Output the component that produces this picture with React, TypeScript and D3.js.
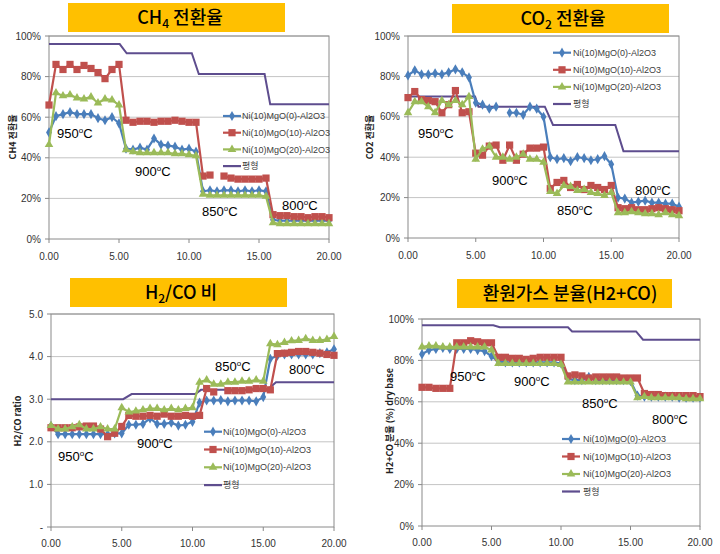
import React from 'react';
import * as d3 from 'd3';

// ---------- data ----------
const times = [0, 0.5, 1, 1.5, 2, 2.5, 3, 3.5, 4, 4.5, 5, 5.5, 6, 6.5, 7, 7.5, 8, 8.5, 9, 9.5, 10,
  10.5, 11, 11.5, 12, 12.5, 13, 13.5, 14, 14.5, 15, 15.5, 16, 16.5, 17, 17.5, 18, 18.5, 19, 19.5, 20];

const seriesNames = ['Ni(10)MgO(0)-Al2O3', 'Ni(10)MgO(10)-Al2O3', 'Ni(10)MgO(20)-Al2O3', '평형'];
const xTicks = [0, 5, 10, 15, 20];
const tempLabels = ['950', '900', '850', '800'];

// CH4 conversion (%)
const ch4Mg0 = [52.5, 60.5, 61.5, 62.5, 61.5, 61.5, 61.5, 59.5, 58.5, 60, 57, 44.5, 44, 45, 44, 49.5, 46.5, 46, 45.5, 44, 44.5,
  43, 23.5, 24, 23.5, 24, 24, 23.5, 24, 23.5, 24, 23.5, 9.5, 9, 9, 9, 9, 9, 9, 9, 9];
const ch4Mg10 = [66, 86, 83.5, 86, 83.5, 85.5, 84, 82, 79, 83.5, 86, 58.5, 57.5, 58, 58, 57.5, 58, 58, 58.5, 58, 57.5,
  57.5, 31, 31.5, null, 31, 30, 29.5, 29.5, 29.5, 29.5, 30, 12, 11.5, 11.5, 11, 11, 10.5, 11, 11, 10.5];
const ch4Mg20 = [46.5, 72, 70.5, 71, 69.5, 69, 70, 67, 69, 68.5, 66, 44, 43, 42.5, 42.5, 42.5, 42.5, 42.5, 42, 42, 41.5,
  41, 22, 21.5, 21.5, 21.5, 21.5, 21.5, 21.5, 21.5, 21.5, 21, 8, 7.5, 7.5, 7.5, 7.5, 7.5, 7.5, 7.5, 7.5];
const ch4EqT = [0, 5.05, 5.55, 10.2, 10.7, 15.4, 15.8, 20];
const ch4EqV = [96, 96, 91.5, 91.5, 81.3, 81.3, 66.4, 66.4];

// CO2 conversion (%)
const co2Mg0 = [80.5, 83, 81, 81, 81.5, 81, 82, 83.5, 82, 79.5, 67, 66, 64, 65, null, 62, 62, 61, 65, 64, 60,
  40, 39, 39.5, 38, 40, 39.5, 38.5, 39, 40.5, 36.5, 20, 19.5, 17.5, 18, 18.5, 17.5, 17.5, 17, 17, 15.5];
const co2Mg10 = [69.5, 72.5, 68.5, 68, 67.5, 62, 66, 73, 62, 62.5, 42, 41, 45.5, 46, 38.5, 46, 38.5, 41.5, 44.5, 44.5, 45,
  24.5, 27.5, 28.5, 25, 26.5, 24, 26, 25, 24, 26, 15, 14.5, 15, 14, 14, 14.5, 15, 14.5, 14, 13.5];
const co2Mg20 = [62, 67.5, 67.5, 65, 62, 68, 66, 68, 66, 70, 39, 44, 45.5, 40, 40, 39, 40, 41.5, 39, 39, 37.5,
  23, 22, 26, 25.5, 23.5, 24, 22.5, 22, 21, 22.5, 12.5, 12.5, 13, 12.5, 12, 12, 11.5, 12.5, 11.5, 11];
const co2EqT = [0, 4.95, 5.2, 10.1, 10.7, 15.3, 15.9, 20];
const co2EqV = [70, 70, 65, 65, 56, 56, 43, 43];

// H2/CO ratio
const ratioMg0 = [2.37, 2.18, 2.18, 2.18, 2.18, 2.18, 2.18, 2.18, 2.18, 2.2, 2.2, 2.4, 2.4, 2.42, 2.55, 2.42, 2.42, 2.45, 2.38, 2.4, 2.47,
  2.92, 2.97, 2.97, 2.98, 2.95, 2.97, 2.97, 2.97, 2.95, 3.05, 3.95, 4.02, 4.05, 4.05, 4.05, 4.05, 4.05, 4.08, 4.1, 4.17];
const ratioMg10 = [2.33, 2.33, 2.33, 2.33, 2.35, 2.37, 2.37, 2.3, 2.12, 2.2, 2.36, 2.62, 2.6, 2.6, 2.62, 2.6, 2.65, 2.6, 2.6, 2.62, 2.6,
  2.62, 3.25, 3.17, null, 3.2, 3.2, 3.2, 3.22, 3.25, 3.25, 3.22, 4.07, 4.08, 4.1, 4.12, 4.12, 4.1, 4.08, 4.05, 4.03];
const ratioMg20 = [2.38, 2.3, 2.3, 2.35, 2.4, 2.3, 2.3, 2.35, 2.3, 2.3, 2.8, 2.7, 2.72, 2.75, 2.78, 2.78, 2.75, 2.78, 2.75, 2.78, 2.8,
  3.4, 3.45, 3.35, 3.35, 3.4, 3.4, 3.42, 3.42, 3.45, 3.42, 4.3, 4.28, 4.33, 4.37, 4.38, 4.42, 4.38, 4.38, 4.4, 4.47];
const ratioEqT = [0, 5.1, 5.7, 10.2, 10.6, 15.3, 15.9, 20];
const ratioEqV = [3.0, 3.0, 3.12, 3.12, 3.22, 3.22, 3.4, 3.4];

// H2+CO fraction (%)
const gasMg0 = [83, 85, 85.5, 86, 85.5, 85.5, 85.5, 85.5, 85, 84.5, 82, 79.5, 79, 79, 79, 79, 79, 79, 79, 79, 78.5,
  71, 70.5, 70.5, 72, 70.5, 70.5, 70.5, 70.5, 70.5, 70, 63, 62.5, 62.5, 62.5, 62.5, 62.5, 62, 62, 62, 62];
const gasMg10 = [67, 67, 66.5, 66.5, 66.5, 88.5, 88.5, 89.5, 89, 88.5, 88.5, 81.5, 81.5, 81, 81, 80.5, 81, 81.5, 81.5, 81.5, 81.5,
  72.5, 73, 72.5, 71.5, 72, 72, 72, 72, 71.5, 71.5, 71.5, 64, 63.5, 63.5, 63, 63, 63, 63, 63, 62.5];
const gasMg20 = [86.5, 87, 87, 86.5, 86.5, 86.5, 86.5, 86.5, 86.5, 86.5, 85, 78.5, 78.5, 78.5, 78.5, 78.5, 78.5, 78.5, 78.5, 78.5, 78,
  69.5, 69.5, 69.5, 69.5, 69.5, 69.5, 69.5, 69.5, 69.5, 69.5, 62, 62.5, 62, 62, 62, 62, 62, 61.5, 61.5, 61.5];
const gasEqT = [0, 5.13, 5.6, 10.5, 10.8, 15.4, 15.9, 20];
const gasEqV = [97, 97, 96, 96, 94, 94, 90, 90];

// ---------- style ----------
const COLORS = ['#4a7ebb', '#c0504d', '#9bbb59', '#5e4d8e'];
const SYMBOLS = [d3.symbolDiamond, d3.symbolSquare, d3.symbolTriangle];
const SYMSIZE = [30, 52, 32];
const FONT = '"Liberation Sans", Arial, "Noto Sans CJK KR", sans-serif';
const KFONT = '"Noto Sans CJK KR", "Liberation Sans", sans-serif';

type PanelCfg = {
  box: [number, number, number, number]; // left, right, top, bottom
  yMax: number;
  yTicks: number[];
  yFmt: (v: number) => string;
  series: (number | null)[][];
  eqT: number[];
  eqV: number[];
  title: React.ReactNode;
  titleBox: [number, number, number, number];
  titleBase: number;
  titleCx: number;
  yTitle: string;
  yTitlePos: [number, number];
  legend: [number, number, number]; // line x, text x, first row y
  legendDy: number;
  temps: [number, number][];
  xLabelY: number;
};

function Panel({ cfg }: { cfg: PanelCfg }) {
  const [l, r, t, b] = cfg.box;
  const x = d3.scaleLinear().domain([0, 20]).range([l, r]);
  const y = d3.scaleLinear().domain([0, cfg.yMax]).range([b, t]);
  const line = d3.line<[number, number | null]>()
    .defined(d => d[1] != null)
    .x(d => x(d[0]))
    .y(d => y(d[1] as number));
  const eqLine = d3.line<[number, number]>().x(d => x(d[0])).y(d => y(d[1]));
  const [tx0, tx1, ty0, ty1] = cfg.titleBox;
  return (
    <g>
      <rect x={tx0} y={ty0} width={tx1 - tx0} height={ty1 - ty0} fill="#ffc000" />
      <text x={cfg.titleCx} y={cfg.titleBase} textAnchor="middle" fontFamily={KFONT} fontSize={18} fontWeight={500} fill="#000">
        {cfg.title}
      </text>
      {cfg.yTicks.map(v => (
        <g key={v}>
          {v > 0 && <line x1={l} x2={r} y1={y(v)} y2={y(v)} stroke="#c4c4c4" strokeWidth={1} />}
          <line x1={l - 4} x2={l} y1={y(v)} y2={y(v)} stroke="#888" />
          <text x={l - 8} y={y(v)} dy="0.35em" textAnchor="end" fontFamily={FONT} fontSize={10} fill="#333">{cfg.yFmt(v)}</text>
        </g>
      ))}
      <rect x={l} y={t} width={r - l} height={b - t} fill="none" stroke="#8a8a8a" strokeWidth={1} />
      {xTicks.map(v => (
        <g key={v}>
          <line x1={x(v)} x2={x(v)} y1={b} y2={b + 4} stroke="#888" />
          <text x={x(v)} y={cfg.xLabelY} dy="0.35em" textAnchor="middle" fontFamily={FONT} fontSize={10} fill="#333">{v.toFixed(2)}</text>
        </g>
      ))}
      <text transform={`translate(${cfg.yTitlePos[0]},${cfg.yTitlePos[1]}) rotate(-90)`} textAnchor="middle" dy="0.35em"
        fontFamily={KFONT} fontSize={9} fontWeight={700} fill="#222">{cfg.yTitle}</text>
      <path d={eqLine(cfg.eqT.map((tt, i) => [tt, cfg.eqV[i]] as [number, number])) || ''} fill="none" stroke={COLORS[3]} strokeWidth={2} />
      {cfg.series.map((vals, si) => {
        const pts = times.map((tt, i) => [tt, vals[i]] as [number, number | null]);
        const sym = d3.symbol().type(SYMBOLS[si]).size(SYMSIZE[si]);
        return (
          <g key={si}>
            <path d={line(pts) || ''} fill="none" stroke={COLORS[si]} strokeWidth={2.2} />
            {pts.filter(p => p[1] != null).map((p, i) => (
              <path key={i} d={sym() || ''} transform={`translate(${x(p[0])},${y(p[1] as number)})`} fill={COLORS[si]} />
            ))}
          </g>
        );
      })}
      {cfg.temps.map((p, i) => (
        <text key={i} x={p[0]} y={p[1]} fontFamily={FONT} fontSize={13} fill="#000">
          {tempLabels[i]}<tspan fontSize={8} dy={-5}>o</tspan><tspan dy={5}>C</tspan>
        </text>
      ))}
      {seriesNames.map((name, i) => {
        const ry = cfg.legend[2] + i * cfg.legendDy;
        const lx = cfg.legend[0];
        const sym = i < 3 ? d3.symbol().type(SYMBOLS[i]).size(SYMSIZE[i])() : null;
        return (
          <g key={name}>
            <line x1={lx} x2={lx + 18} y1={ry} y2={ry} stroke={COLORS[i]} strokeWidth={2.2} />
            {sym && <path d={sym} transform={`translate(${lx + 9},${ry})`} fill={COLORS[i]} />}
            <text x={cfg.legend[1]} y={ry} dy="0.35em" fontFamily={FONT} fontSize={9} fill="#404040">{name}</text>
          </g>
        );
      })}
    </g>
  );
}

const pct = (v: number) => `${v}%`;
const ratioFmt = (v: number) => (v === 0 ? '-' : v.toFixed(1));

const panels: PanelCfg[] = [
  {
    box: [49, 329, 36, 239], yMax: 100, yTicks: [0, 20, 40, 60, 80, 100], yFmt: pct,
    series: [ch4Mg0, ch4Mg10, ch4Mg20], eqT: ch4EqT, eqV: ch4EqV,
    title: <>CH<tspan fontSize={12} dy={4}>4</tspan><tspan dy={-4}> 전환율</tspan></>,
    titleBox: [68, 285, 3, 32], titleBase: 24, titleCx: 180,
    yTitle: 'CH4 전환율', yTitlePos: [13, 137],
    legend: [223, 242, 116], legendDy: 16.7,
    temps: [[57, 138], [135, 176], [202, 216], [282, 210]], xLabelY: 256,
  },
  {
    box: [408, 679, 36, 238], yMax: 100, yTicks: [0, 20, 40, 60, 80, 100], yFmt: pct,
    series: [co2Mg0, co2Mg10, co2Mg20], eqT: co2EqT, eqV: co2EqV,
    title: <>CO<tspan fontSize={12} dy={4}>2</tspan><tspan dy={-4}> 전환율</tspan></>,
    titleBox: [452, 669, 4, 33], titleBase: 25, titleCx: 563,
    yTitle: 'CO2 전환율', yTitlePos: [370, 137],
    legend: [553, 573, 52.7], legendDy: 17.1,
    temps: [[418, 138], [492, 185], [557, 215], [635, 195]], xLabelY: 255,
  },
  {
    box: [51, 334, 314, 527], yMax: 5, yTicks: [0, 1, 2, 3, 4, 5], yFmt: ratioFmt,
    series: [ratioMg0, ratioMg10, ratioMg20], eqT: ratioEqT, eqV: ratioEqV,
    title: <>H<tspan fontSize={12} dy={4}>2</tspan><tspan dy={-4}>/CO 비</tspan></>,
    titleBox: [70, 287, 278, 307], titleBase: 299, titleCx: 181,
    yTitle: 'H2/CO ratio', yTitlePos: [18, 421],
    legend: [204, 223, 431.7], legendDy: 17.8,
    temps: [[58, 461], [137, 448], [215, 371], [289, 374]], xLabelY: 543,
  },
  {
    box: [422, 700, 319, 526], yMax: 100, yTicks: [0, 20, 40, 60, 80, 100], yFmt: pct,
    series: [gasMg0, gasMg10, gasMg20], eqT: gasEqT, eqV: gasEqV,
    title: <>환원가스 분율(H2+CO)</>,
    titleBox: [457, 672, 279, 308], titleBase: 300, titleCx: 570,
    yTitle: 'H2+CO 분율 (%) dry base', yTitlePos: [390, 421],
    legend: [562, 583, 439], legendDy: 17.5,
    temps: [[450, 381], [514, 386], [582, 408], [652, 424]], xLabelY: 542,
  },
];

export default function App() {
  return (
    <svg width={720} height={554} style={{ position: 'absolute', left: 0, top: 0, background: '#fff' }}>
      <rect x={0} y={0} width={720} height={554} fill="#fff" />
      {panels.map((p, i) => <Panel key={i} cfg={p} />)}
    </svg>
  );
}
